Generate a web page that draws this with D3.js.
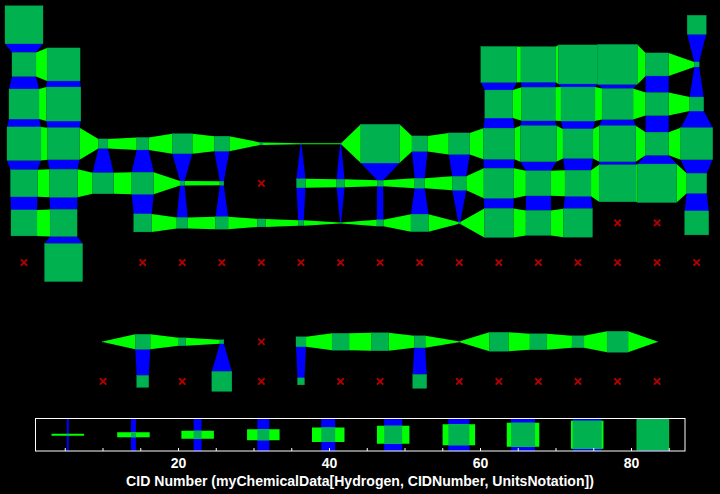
<!DOCTYPE html>
<html>
<head>
<meta charset="utf-8">
<style>html,body{margin:0;padding:0;background:#000;overflow:hidden}svg{display:block}text{font-family:"Liberation Sans",Arial,sans-serif;font-weight:bold;fill:#fff}</style>
<script src="https://cdn.jsdelivr.net/npm/d3@7"></script>
</head>
<body>
<script>
// 0 = no element in that cell, null = element without data (red cross)
const period1W = [38,0,0,0,0,0,0,0,0,0,0,0,0,0,0,0,0,19];
const period1H = [38,0,0,0,0,0,0,0,0,0,0,0,0,0,0,0,0,19];
const period2W = [24,33,0,0,0,0,0,0,0,0,0,0,36,35,39.5,39.5,23,5];
const period2H = [24,33,0,0,0,0,0,0,0,0,0,0,36,35.5,39,40,23,5];
const period3W = [30,34.5,0,0,0,0,0,0,0,0,0,0,28,33.5,34,31,23,14];
const period3H = [30,34,0,0,0,0,0,0,0,0,0,0,28,33.5,34,31,23,14];
const period4W = [34,32,9.5,12,20,15,3,1,1,38.7,15.5,21,31,36,30,36.5,23,32];
const period4H = [33.5,32,9.5,12.5,20,15,2.5,1,1,38.7,15.5,21.5,31,36,29.5,36,23,32];
const period5W = [27,28,21,22,4.5,4,null,9,8,6,10,14,30,25,26,37,39,20];
const period5H = [27,28,21,22,4.5,4,null,9,8,6,10,14,30,25,26,37,38.5,20];
const period6W = [26,27,0,18,11,12.5,8,5.5,1,6.5,17.5,2,29,25,29,null,null,24];
const period6H = [26,27,0,18,11,12.5,8,5.5,1,6.5,17.5,2,29,25,28.5,null,null,24];
const period7W = [null,38,0,null,null,null,null,null,null,null,null,null,null,null,null,null,null,null];
const period7H = [null,38,0,null,null,null,null,null,null,null,null,null,null,null,null,null,null,null];
const lanthanideW = [0,0,1,15,7,4,null,10,17,17,11,1,19,17,12,21,1,0];
const lanthanideH = [0,0,1,15,8,4,null,10,17,18,12,1,19,16,12,21,1,0];
const actinideW = [0,0,null,12,null,20,null,7,null,null,14,null,null,null,null,null,null,0];
const actinideH = [0,0,null,12,null,20,null,7,null,null,14,null,null,null,null,null,null,0];
const gridRows = [1,2,3,4,5,6,7,9,10];
const rowWidths = [period1W,period2W,period3W,period4W,period5W,period6W,period7W,lanthanideW,actinideW];
const rowHeights = [period1H,period2H,period3H,period4H,period5H,period6H,period7H,lanthanideH,actinideH];

const legendValues = [5.4,14.1,22.6,31.3,39.9,48.5,57.2,65.7,74.2,82.9];
const legendWidths = [2,5,8,12,14,18,21,24,29,32];
const legendHeights = [2,5,8,11,14.5,18,21,24,28,31];
const axisTicks = [5,10,15,20,25,30,35,40,45,50,55,60,65,70,75,80,85];
const axisLabels = [20,40,60,80];
const axisTitle = "CID Number (myChemicalData[Hydrogen, CIDNumber, UnitsNotation])";

const W = 720, H = 494;
const colorBridgeH = "#00ff00", colorBridgeV = "#0000ff", colorCell = "#00b24f", colorEdge = "#00a850", colorMissing = "#b00000";

const svg = d3.select("body").append("svg").attr("width", W).attr("height", H);
svg.append("rect").attr("width", W).attr("height", H).attr("fill", "#000");

const xCol = d3.scaleLinear().domain([1, 18]).range([24, 696.7]);
const yRow = d3.scaleLinear().domain([1, 10]).range([24.8, 381.4]);
const size = d3.scaleLinear().domain([0, 40]).range([0, 40]);

// Flatten the rows to cells
const cells = [];
gridRows.forEach((r, ri) => {
  rowWidths[ri].forEach((w, ci) => {
    if (w === 0) return;
    cells.push({ row: r, rowIndex: ri, col: ci + 1, w: w, h: rowHeights[ri][ci], missing: w === null });
  });
});
const present = cells.filter(d => !d.missing);
const at = new Map(present.map(d => [d.row + "_" + d.col, d]));
const line = d3.line();

const gBridges = svg.append("g");
const hBridges = [], vBridges = [];
present.forEach(c => {
  const right = at.get(c.row + "_" + (c.col + 1));
  if (right) hBridges.push([c, right]);
  const below = at.get((c.row + 1) + "_" + c.col);
  if (below) vBridges.push([c, below]);
});

gBridges.selectAll("path.v").data(vBridges).join("path").attr("class", "v")
  .attr("fill", colorBridgeV)
  .attr("d", ([a, b]) => {
    const x = xCol(a.col), y1 = yRow(a.row) + size(a.h) / 2, y2 = yRow(b.row) - size(b.h) / 2;
    return line([[x - size(a.w) / 2, y1], [x + size(a.w) / 2, y1], [x + size(b.w) / 2, y2], [x - size(b.w) / 2, y2]]) + "Z";
  });
gBridges.selectAll("path.h").data(hBridges).join("path").attr("class", "h")
  .attr("fill", colorBridgeH)
  .attr("d", ([a, b]) => {
    const y = yRow(a.row), x1 = xCol(a.col) + size(a.w) / 2, x2 = xCol(b.col) - size(b.w) / 2;
    return line([[x1, y - size(a.h) / 2], [x2, y - size(b.h) / 2], [x2, y + size(b.h) / 2], [x1, y + size(a.h) / 2]]) + "Z";
  });

svg.append("g").selectAll("rect").data(present).join("rect")
  .attr("x", d => xCol(d.col) - size(d.w) / 2)
  .attr("y", d => yRow(d.row) - size(d.h) / 2)
  .attr("width", d => size(d.w))
  .attr("height", d => size(d.h))
  .attr("fill", colorCell)
  .attr("stroke", colorEdge)
  .attr("stroke-width", 0.3);

const cross = d3.symbol().type(d3.symbolTimes).size(28);
svg.append("g").selectAll("path").data(cells.filter(d => d.missing)).join("path")
  .attr("transform", d => `translate(${xCol(d.col)},${yRow(d.row)})`)
  .attr("d", cross)
  .attr("fill", "none")
  .attr("stroke", colorMissing)
  .attr("stroke-width", 1.9);

// Legend
const legendX = d3.scaleLinear().domain([20, 80]).range([178, 631]);
const legendTop = 418.5, legendBottom = 451, legendLeft = 35.5, legendRight = 685;
const legendMid = (legendTop + legendBottom) / 2;
const legendItems = legendValues.map((v, i) => ({ v: v, w: legendWidths[i], h: legendHeights[i] }));
const gLegend = svg.append("g");
const armLong = 32.5;
gLegend.selectAll("rect.v").data(legendItems).join("rect").attr("class", "v")
  .attr("x", d => legendX(d.v) - size(d.w) / 2).attr("width", d => size(d.w))
  .attr("y", legendTop).attr("height", legendBottom - legendTop).attr("fill", colorBridgeV);
gLegend.selectAll("rect.h").data(legendItems).join("rect").attr("class", "h")
  .attr("x", d => legendX(d.v) - armLong / 2).attr("width", armLong)
  .attr("y", d => legendMid - size(d.h) / 2).attr("height", d => size(d.h)).attr("fill", colorBridgeH);
gLegend.selectAll("rect.c").data(legendItems).join("rect").attr("class", "c")
  .attr("x", d => legendX(d.v) - size(d.w) / 2).attr("width", d => size(d.w))
  .attr("y", d => legendMid - size(d.h) / 2).attr("height", d => size(d.h)).attr("fill", colorCell);

gLegend.append("rect").attr("x", legendLeft).attr("y", legendTop)
  .attr("width", legendRight - legendLeft).attr("height", legendBottom - legendTop)
  .attr("fill", "none").attr("stroke", "#fff").attr("stroke-width", 1);

const axis = d3.axisBottom(legendX).tickValues(axisTicks).tickSize(-3).tickPadding(7)
  .tickFormat(d => axisLabels.includes(d) ? d : "");
const gAxis = svg.append("g").attr("transform", `translate(0,${legendBottom})`).call(axis);
gAxis.select(".domain").remove();
gAxis.selectAll("line").attr("stroke", "#fff");
gAxis.selectAll("text").attr("font-size", 14).attr("dy", "0.71em").style("fill", "#fff")
  .style("font-family", '"Liberation Sans",Arial,sans-serif').style("font-weight", "bold");

svg.append("text").attr("x", 360).attr("y", 486).attr("text-anchor", "middle")
  .attr("font-size", 14.08).text(axisTitle);
</script>
</body>
</html>
